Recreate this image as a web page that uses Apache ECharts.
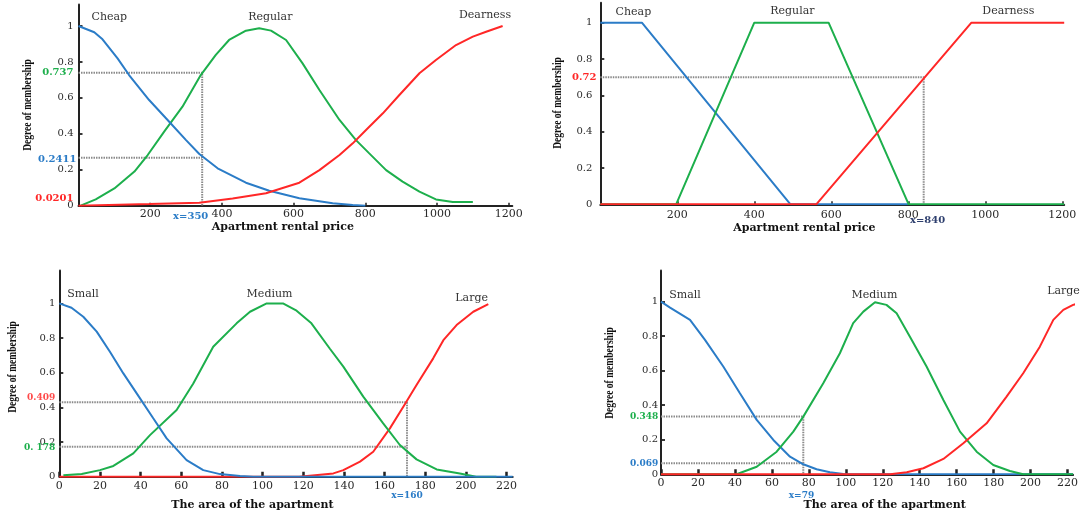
<!DOCTYPE html>
<html><head><meta charset="utf-8">
<script src="https://cdn.jsdelivr.net/npm/echarts@6/dist/echarts.min.js"></script>
<style>html,body{margin:0;padding:0;background:#fff}#c{width:1086px;height:516px}</style>
</head><body><div id="c"></div>
<script>
// ---------- DATA ----------
const yTickValues = [0, 0.2, 0.4, 0.6, 0.8, 1];
const yTickLabels = ['0', '0.2', '0.4', '0.6', '0.8', '1'];
const priceTicks = [200, 400, 600, 800, 1000, 1200];
const areaTicks = [0, 20, 40, 60, 80, 100, 120, 140, 160, 180, 200, 220];

// Panel 1: rental price (gaussian-like)
const p1Cheap = [[0,1],[44,0.965],[67,0.926],[109,0.82],[141,0.727],[197,0.588],[253,0.467],[300,0.365],[337,0.288],[388,0.208],[467,0.128],[532,0.083],[616,0.041],[709,0.013],[765,0.004],[800,0]];
const p1Regular = [[6,0],[48,0.035],[100,0.096],[156,0.19],[193,0.282],[239,0.412],[290,0.551],[341,0.727],[383,0.839],[420,0.922],[467,0.974],[504,0.987],[537,0.974],[579,0.922],[625,0.792],[672,0.644],[728,0.477],[774,0.365],[811,0.291],[858,0.198],[904,0.134],[951,0.078],[997,0.035],[1044,0.02],[1100,0.02]];
const p1Dearness = [[0,0],[197,0.009],[337,0.017],[430,0.04],[523,0.069],[616,0.128],[672,0.198],[728,0.282],[765,0.347],[802,0.421],[849,0.514],[895,0.616],[951,0.737],[997,0.811],[1053,0.894],[1100,0.941],[1137,0.968],[1183,1.0]];
const p1GuideX = 345;
const p1GuideY = [0.74, 0.267];

// Panel 2: rental price (trapezoidal)
const p2Cheap = [[0,1],[108,1],[494,0],[800,0]];
const p2Regular = [[0,0],[197,0],[400,1],[593,1],[801,0],[1205,0]];
const p2Dearness = [[0,0],[561,0],[964,1],[1205,1]];
const p2GuideX = 840;
const p2GuideY = [0.70];

// Panel 3: area (first set)
const p3Small = [[0,1],[6,0.975],[11.8,0.923],[18.4,0.837],[24.9,0.721],[31.5,0.596],[39.7,0.452],[46.2,0.337],[52.8,0.221],[62.6,0.096],[70.8,0.038],[79,0.015],[88.9,0.004],[95.4,0],[223,0]];
const p3Medium = [[2,0.008],[11,0.015],[20,0.038],[26.6,0.062],[36.4,0.135],[44.6,0.24],[57.7,0.385],[65.9,0.538],[75.7,0.75],[87.2,0.885],[93.8,0.952],[102,1.0],[110,1.0],[116.7,0.958],[124,0.885],[133,0.74],[139.7,0.635],[149.5,0.462],[159.3,0.308],[167.5,0.183],[175.7,0.1],[185.6,0.042],[197,0.019],[205,0],[215,0]];
const p3Large = [[0,0],[118,0],[134.8,0.019],[139.7,0.038],[147.9,0.087],[154.4,0.144],[162.6,0.279],[169.2,0.404],[175.7,0.529],[183.9,0.683],[188.9,0.788],[195.4,0.875],[203.6,0.952],[211,0.996]];
const p3GuideX = 171;
const p3GuideY = [0.429, 0.173];

// Panel 4: area (second set)
const p4Small = [[0,1],[4.9,0.965],[15.7,0.894],[23.8,0.778],[33.7,0.624],[42.7,0.469],[51.8,0.315],[60.8,0.199],[69.8,0.102],[77,0.058],[84.2,0.029],[91.4,0.012],[98.6,0.002],[106,0],[223,0]];
const p4Medium = [[0,0],[40.9,0],[51.8,0.044],[62.6,0.131],[71.6,0.247],[77,0.334],[87.8,0.527],[96.8,0.701],[104,0.875],[109.5,0.942],[115.8,0.996],[122,0.981],[127.5,0.932],[134.7,0.797],[143.7,0.624],[152.8,0.43],[161.8,0.247],[170.8,0.131],[179.8,0.054],[188.8,0.019],[196,0],[223,0]];
const p4Large = [[0,0],[124,0],[133,0.012],[142,0.035],[152.8,0.089],[163.6,0.18],[176.2,0.295],[187,0.45],[196,0.585],[205,0.739],[212.3,0.894],[217.7,0.952],[223,0.981],[228.5,0.996]];
const p4GuideX = 77;
const p4GuideY = [0.334, 0.064];

// ---------- STYLE ----------
const BLUE = '#2b7cc7', GREEN = '#1daf4c', RED = '#ff2727', NAVY = '#2e3f6e';
const AXIS = '#222';
const grids = [
  {left: 78.5, top: 4.4, width: 433.8, height: 201.3, xMax: 1210, yMax: 1.12, xi: 200, ticks: priceTicks, xMargin: 3, yMargin: 5},
  {left: 600.3, top: 2.7, width: 463.9, height: 201.6, xMax: 1205, yMax: 1.11, xi: 200, ticks: priceTicks, xMargin: 5, yMargin: 8},
  {left: 59.3, top: 270.5, width: 453.4, height: 206.2, xMax: 223, yMax: 1.19, xi: 20, ticks: areaTicks, xMargin: 4, yMargin: 4},
  {left: 661, top: 270.5, width: 412.1, height: 203.8, xMax: 223, yMax: 1.18, xi: 20, ticks: areaTicks, xMargin: 3, yMargin: 3}
];

const option = {
  animation: false,
  backgroundColor: '#fff',
  grid: grids.map(g => ({left: g.left, top: g.top, width: g.width, height: g.height, outerBoundsMode: 'none'})),
  xAxis: grids.map((g, i) => ({
    type: 'value', gridIndex: i, min: 0, max: g.xMax, interval: g.xi,
    axisLine: {show: true, onZero: false, lineStyle: {color: AXIS, width: 2}},
    axisTick: {show: true, inside: true, length: i >= 2 ? 5 : 3, customValues: g.ticks, lineStyle: {color: AXIS, width: i >= 2 ? 2.5 : 1.5}},
    axisLabel: {customValues: g.ticks, margin: g.xMargin, color: '#2a2a2a', fontFamily: 'DejaVu Serif', fontSize: 11,
      formatter: v => String(v)},
    splitLine: {show: false}
  })),
  yAxis: grids.map((g, i) => ({
    type: 'value', gridIndex: i, min: 0, max: g.yMax, interval: 0.2,
    axisLine: {show: true, lineStyle: {color: AXIS, width: 2}},
    axisTick: {show: true, inside: true, length: 4, customValues: yTickValues, lineStyle: {color: AXIS, width: 1.8}},
    axisLabel: {customValues: yTickValues, margin: g.yMargin, color: '#2a2a2a', fontFamily: 'DejaVu Serif', fontSize: 10,
      formatter: v => { const k = yTickValues.findIndex(t => Math.abs(t - v) < 1e-6); return k >= 0 ? yTickLabels[k] : ''; }},
    splitLine: {show: false}
  })),
  series: []
};

function curve(i, data, color, extra) {
  return Object.assign({type: 'line', xAxisIndex: i, yAxisIndex: i, data: data, symbol: 'none', smooth: false,
    lineStyle: {color: color, width: 2}, z: 3}, extra || {});
}
function guides(i, gx, gys) {
  const out = [];
  gys.forEach((gy, k) => {
    const d = k === 0 ? [[0, gy], [gx, gy], [gx, 0]] : [[0, gy], [gx, gy]];
    out.push({type: 'line', xAxisIndex: i, yAxisIndex: i, data: d, symbol: 'none', z: 2,
      lineStyle: {color: '#8a8a8a', width: 2, type: [1.5, 1]}});
  });
  return out;
}

option.series.push(...guides(0, p1GuideX, p1GuideY));
option.series.push(curve(0, p1Regular, GREEN), curve(0, p1Cheap, BLUE), curve(0, p1Dearness, RED));
option.series.push(...guides(1, p2GuideX, p2GuideY));
option.series.push(curve(1, p2Cheap, BLUE), curve(1, p2Regular, GREEN), curve(1, p2Dearness, RED));
option.series.push(...guides(2, p3GuideX, p3GuideY));
option.series.push(curve(2, p3Large, RED), curve(2, p3Medium, GREEN), curve(2, p3Small, BLUE));
option.series.push(...guides(3, p4GuideX, p4GuideY));
option.series.push(curve(3, p4Small, BLUE), curve(3, p4Medium, GREEN), curve(3, p4Large, RED, {clip: false}));

const chart = echarts.init(document.getElementById('c'), null, {renderer: 'canvas'});
chart.setOption(option);

// ---------- TEXT LABELS (anchored in data coordinates) ----------
const cat = {fontFamily: 'DejaVu Serif', fontSize: 11, fill: '#333'};
const ann = (c, s) => ({fontFamily: 'DejaVu Serif', fontSize: s || 10, fontWeight: 'bold', fill: c});
const axisName = {fontFamily: 'DejaVu Serif', fontSize: 11, fontWeight: 'bold', fill: '#111'};
const labels = [
  [0, 86, 1.05, 'Cheap', cat, 'center'], [0, 535, 1.05, 'Regular', cat, 'center'], [0, 1134, 1.061, 'Dearness', cat, 'center'],
  [0, -14, 0.74, '0.737', ann(GREEN), 'right'], [0, -6, 0.26, '0.2411', ann(BLUE), 'right'], [0, -14, 0.043, '0.0201', ann(RED), 'right'],
  [0, 313, -0.061, 'x=350', ann(BLUE), 'center'], [0, 570, -0.118, 'Apartment rental price', axisName, 'center'],
  [1, 86, 1.059, 'Cheap', cat, 'center'], [1, 499, 1.064, 'Regular', cat, 'center'], [1, 1060, 1.064, 'Dearness', cat, 'center'],
  [1, -10, 0.70, '0.72', ann(RED), 'right'], [1, 850, -0.086, 'x=840', ann(NAVY), 'center'], [1, 530, -0.13, 'Apartment rental price', axisName, 'center'],
  [2, 11.7, 1.054, 'Small', cat, 'center'], [2, 103.4, 1.054, 'Medium', cat, 'center'], [2, 202.8, 1.033, 'Large', cat, 'center'],
  [2, -2, 0.456, '0.409', ann('#ff4a4a', 9), 'right'], [2, -2, 0.166, '0. 178', ann(GREEN, 9), 'right'], [2, 171, -0.111, 'x=160', ann(BLUE, 9), 'center'],
  [2, 95, -0.163, 'The area of the apartment', axisName, 'center'],
  [3, 13, 1.038, 'Small', cat, 'center'], [3, 115.5, 1.038, 'Medium', cat, 'center'], [3, 217.8, 1.063, 'Large', cat, 'center'],
  [3, -1.5, 0.334, '0.348', ann(GREEN, 9), 'right'], [3, -1.5, 0.064, '0.069', ann(BLUE, 9), 'right'], [3, 76, -0.126, 'x=79', ann(BLUE, 9), 'center'],
  [3, 121, -0.178, 'The area of the apartment', axisName, 'center']
];
const yNames = [[28, 105], [558, 103], [13, 367], [610, 373]];
const graphics = labels.map(([g, x, y, t, st, al]) => {
  const p = chart.convertToPixel({gridIndex: g}, [x, y]);
  return {type: 'text', x: p[0], y: p[1], silent: true, z: 10,
    style: Object.assign({text: t, textAlign: al, textVerticalAlign: 'middle'}, st)};
});
yNames.forEach(([x, y]) => graphics.push({type: 'text', x: x, y: y, rotation: Math.PI / 2, scaleX: 0.76, silent: true,
  style: {text: 'Degree of membership', textAlign: 'center', textVerticalAlign: 'middle',
    fontFamily: 'Liberation Serif', fontSize: 12.5, fontWeight: 'bold', fill: '#111'}}));
chart.setOption({graphic: graphics});
</script></body></html>
